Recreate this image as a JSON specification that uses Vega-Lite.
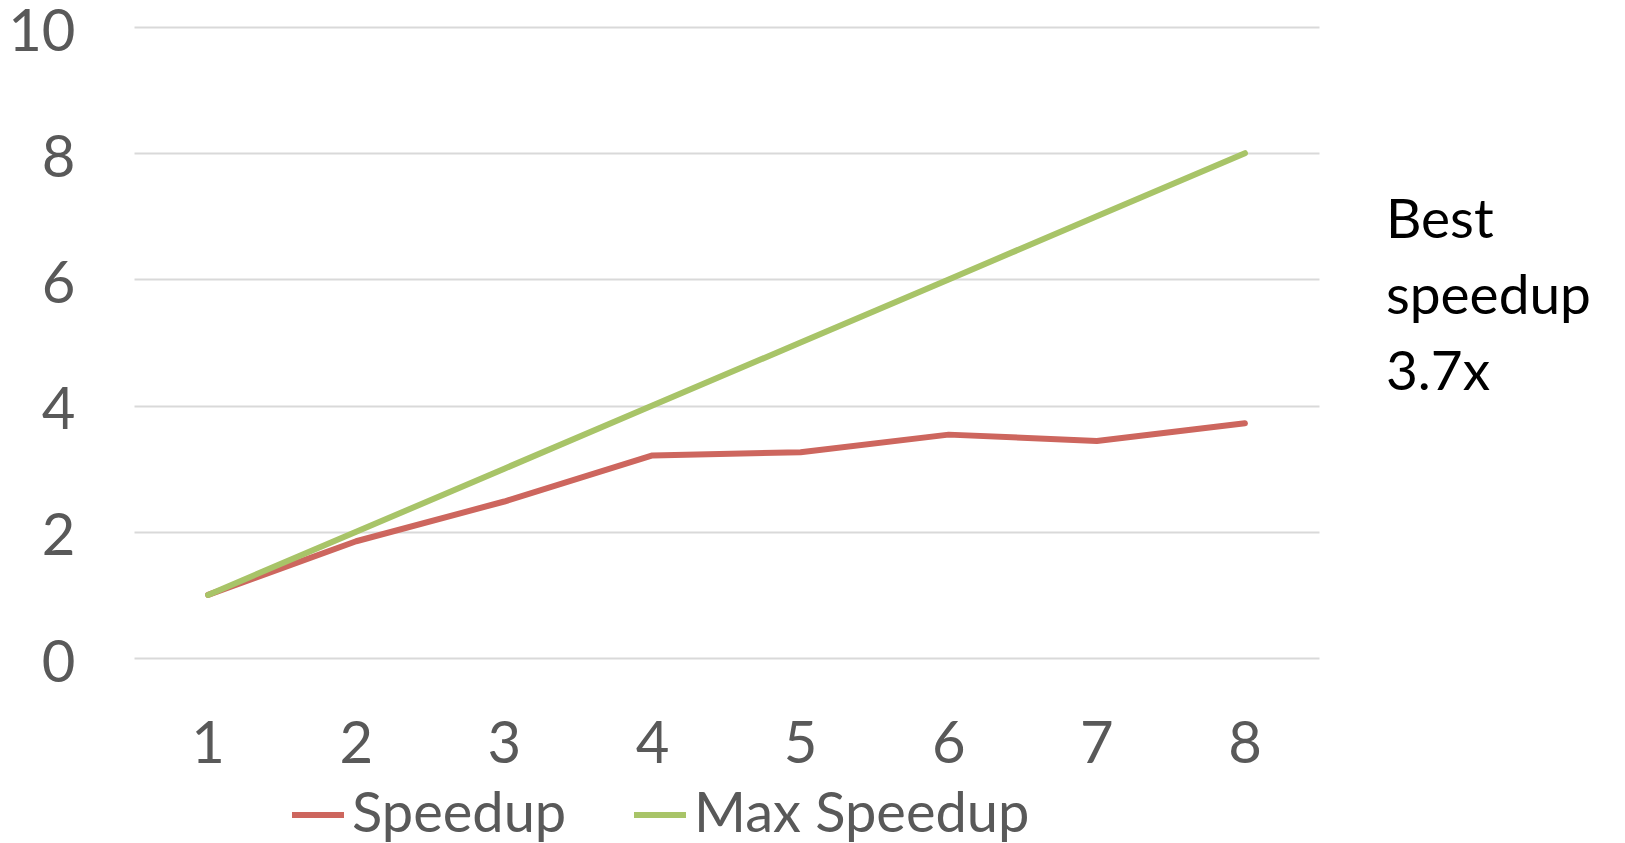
{
  "$schema": "https://vega.github.io/schema/vega-lite/v6.json",
  "autosize": {"type": "none"},
  "width": 1185,
  "height": 631,
  "padding": {"left": 134, "top": 27, "right": 306, "bottom": 185},
  "background": "white",
  "config": {
    "view": {"stroke": null},
    "font": "Lato"
  },
  "layer": [
    {
      "data": {
        "values": [
          {"threads": 1, "series": "Speedup", "value": 1.0},
          {"threads": 2, "series": "Speedup", "value": 1.85},
          {"threads": 3, "series": "Speedup", "value": 2.48},
          {"threads": 4, "series": "Speedup", "value": 3.21},
          {"threads": 5, "series": "Speedup", "value": 3.26},
          {"threads": 6, "series": "Speedup", "value": 3.54},
          {"threads": 7, "series": "Speedup", "value": 3.44},
          {"threads": 8, "series": "Speedup", "value": 3.72},
          {"threads": 1, "series": "Max Speedup", "value": 1},
          {"threads": 2, "series": "Max Speedup", "value": 2},
          {"threads": 3, "series": "Max Speedup", "value": 3},
          {"threads": 4, "series": "Max Speedup", "value": 4},
          {"threads": 5, "series": "Max Speedup", "value": 5},
          {"threads": 6, "series": "Max Speedup", "value": 6},
          {"threads": 7, "series": "Max Speedup", "value": 7},
          {"threads": 8, "series": "Max Speedup", "value": 8}
        ]
      },
      "mark": {"type": "line", "strokeWidth": 6, "strokeCap": "round", "strokeJoin": "round"},
      "encoding": {
        "x": {
          "field": "threads", "type": "ordinal",
          "scale": {"type": "band", "paddingInner": 0, "paddingOuter": 0},
          "axis": {
            "title": null, "labelAngle": 0, "domain": false, "ticks": false,
            "labelFontSize": 58, "labelColor": "#595959", "labelPadding": 58, "grid": false
          }
        },
        "y": {
          "field": "value", "type": "quantitative",
          "scale": {"domain": [0, 10], "nice": false},
          "axis": {
            "title": null, "values": [0, 2, 4, 6, 8, 10], "format": "d", "domain": false, "ticks": false,
            "labelFontSize": 58, "labelColor": "#595959", "labelPadding": 59, "labelOffset": 6,
            "gridColor": "#D9D9D9", "gridWidth": 2
          }
        },
        "color": {
          "field": "series", "type": "nominal",
          "scale": {"domain": ["Speedup", "Max Speedup"], "range": ["#CD665E", "#A8C468"]},
          "legend": {
            "title": null, "orient": "none", "direction": "horizontal",
            "legendX": 155, "legendY": 759,
            "symbolType": "stroke", "symbolSize": 2704, "symbolStrokeWidth": 6,
            "labelFontSize": 56, "labelColor": "#595959", "labelOffset": 5, "labelLimit": 0,
            "columnPadding": 55, "padding": 0
          }
        }
      }
    },
    {
      "data": {"values": [{"threads": 8, "value": 6.92, "note": ["Best", "speedup", "3.7x"]}]},
      "mark": {"type": "text", "align": "left", "baseline": "middle", "dx": 141, "fontSize": 55, "lineHeight": 76, "color": "#000000"},
      "encoding": {
        "x": {"field": "threads", "type": "ordinal"},
        "y": {"field": "value", "type": "quantitative"},
        "text": {"field": "note"}
      }
    }
  ]
}
